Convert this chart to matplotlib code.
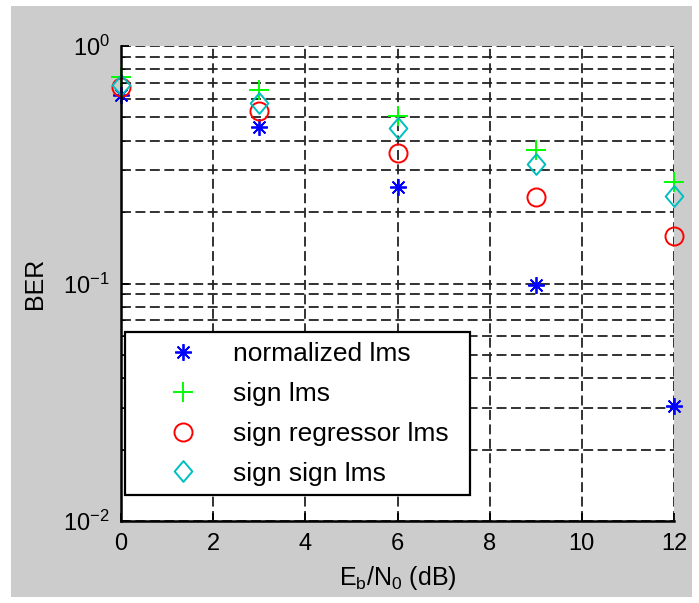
import numpy as np
import matplotlib
matplotlib.use('Agg')
import matplotlib.pyplot as plt
from matplotlib.patches import Rectangle
from matplotlib.path import Path
from matplotlib.ticker import LogLocator, NullFormatter

plt.rcParams['font.family'] = ['Liberation Sans', 'DejaVu Sans']
plt.rcParams['mathtext.fontset'] = 'custom'
plt.rcParams['mathtext.rm'] = 'Liberation Sans'
plt.rcParams['mathtext.it'] = 'Liberation Sans'

# dados
snr_db = [0, 3, 6, 9, 12]
ber_normalized = [0.62, 0.456, 0.255, 0.0986, 0.0305]
ber_sign = [0.74, 0.65, 0.507, 0.365, 0.267]
ber_sign_regressor = [0.672, 0.532, 0.354, 0.231, 0.158]
ber_sign_sign = [0.685, 0.575, 0.452, 0.318, 0.233]

fig = plt.figure(figsize=(6.99, 6.03), dpi=100, facecolor='white')
# fundo cinza estilo MATLAB
fig.patches.append(Rectangle((11/699, 6/603), (692-11)/699, (597-6)/603,
                             transform=fig.transFigure, facecolor='#cccccc',
                             edgecolor='none', zorder=-10))

ax = fig.add_axes([121/699, (603-521)/603, (674-121)/699, (521-46)/603])
ax.set_facecolor('white')

asterisco = (8, 2, 0)
# losango um pouco mais alto que largo, como no MATLAB
losango = Path([(0, 1), (0.85, 0), (0, -1), (-0.85, 0), (0, 1)],
               [Path.MOVETO, Path.LINETO, Path.LINETO, Path.LINETO, Path.CLOSEPOLY])

ax.semilogy(snr_db, ber_normalized, marker=asterisco, color='#0000ff', markersize=12,
            markeredgewidth=1.3, linestyle='none', clip_on=False, label='normalized lms')
ax.semilogy(snr_db, ber_sign, '+', color='#00ff00', markersize=14,
            markeredgewidth=1.4, linestyle='none', clip_on=False, label='sign lms')
ax.semilogy(snr_db, ber_sign_regressor, 'o', color='#ff0000', markerfacecolor='none',
            markersize=13, markeredgewidth=1.4, linestyle='none', clip_on=False,
            label='sign regressor lms')
ax.semilogy(snr_db, ber_sign_sign, marker=losango, color='#00bfbf', markerfacecolor='none',
            markersize=15, markeredgewidth=1.4, linestyle='none', clip_on=False,
            label='sign sign lms')

ax.set_xlim(0, 12)
ax.set_ylim(1e-2, 1)
ax.set_xticks([0, 2, 4, 6, 8, 10, 12])
ax.yaxis.set_major_locator(LogLocator(base=10, numticks=5))
ax.yaxis.set_minor_locator(LogLocator(base=10, subs=np.arange(2, 10), numticks=20))
ax.yaxis.set_minor_formatter(NullFormatter())

tracejado = (0, (5.5, 2.5))
ax.grid(True, which='major', linestyle=tracejado, color='#222222', linewidth=1.3)
ax.grid(True, which='minor', axis='y', linestyle=tracejado, color='#222222', linewidth=1.3)

for lado in ['top', 'right']:
    ax.spines[lado].set_visible(False)
for lado in ['left', 'bottom']:
    ax.spines[lado].set_linewidth(1.8)

ax.tick_params(which='both', direction='in', labelsize=17)
ax.tick_params(which='major', length=6, width=1.3)
ax.tick_params(which='minor', length=3)
ax.tick_params(axis='x', pad=9)
ax.tick_params(axis='y', pad=8)

ax.set_xlabel(r'E$_\mathregular{b}$/N$_\mathregular{0}$ (dB)', fontsize=18, labelpad=6)
ax.set_ylabel('BER', fontsize=18, labelpad=12)

# caixa da legenda desenhada à parte
caixa = Rectangle(((125-121)/553, (521-495)/475), (470-125)/553, (495-332)/475,
                  transform=ax.transAxes, facecolor='white', edgecolor='black',
                  linewidth=1.6, zorder=4.5, clip_on=False)
ax.add_patch(caixa)

leg = ax.legend(loc='center left', bbox_to_anchor=(0.0644, 0.2253), fontsize=19,
                frameon=False, borderpad=0, labelspacing=0.6, handlelength=2.0,
                handletextpad=0.9, borderaxespad=0)
leg.set_zorder(5)

plt.savefig('out.png', dpi=100, facecolor='white')
